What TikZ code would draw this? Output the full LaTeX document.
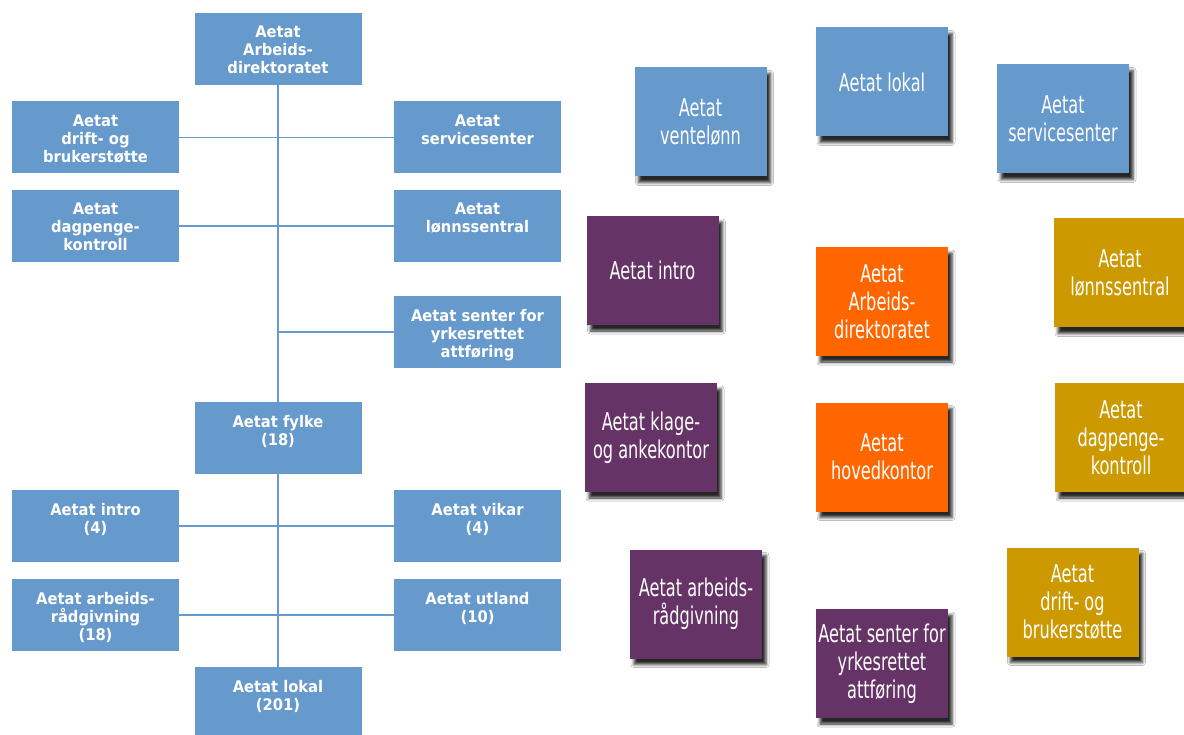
\documentclass[tikz,border=0pt]{standalone}
\usepackage{fontspec}
\usepackage{xcolor}
\usepackage{tikz}
\usetikzlibrary{shadows.blur}
\newfontfamily\unitfont[FakeStretch=0.92]{DejaVu Sans}
\newfontfamily\tilefont[FakeStretch=0.66]{DejaVu Sans}
\definecolor{aetatblue}{HTML}{6699CC}
\definecolor{aetatpurple}{HTML}{663366}
\definecolor{aetatorange}{HTML}{FF6600}
\definecolor{aetatgold}{HTML}{CC9900}
\tikzstyle{unit} = [rectangle, fill=aetatblue, text=white, minimum width=167pt, minimum height=72pt, inner sep=0pt, font=\unitfont\bfseries\fontsize{16}{18}\selectfont]
\tikzstyle{tile} = [rectangle, text=white, minimum width=132pt, minimum height=109pt, inner sep=0pt, align=center, font=\tilefont\fontsize{24.5}{28}\selectfont, blur shadow={shadow xshift=4pt, shadow yshift=-6pt, shadow blur radius=3pt, shadow opacity=85}]
\tikzstyle{link} = [draw=aetatblue, line width=1.5pt]
\newcommand{\unittext}[1]{\parbox[t][46pt][t]{165pt}{\centering #1}}

\begin{document}
\begin{tikzpicture}[x=1pt, y=-1pt]
\fill[white] (0,0) rectangle (1184,735);
\useasboundingbox (0,0) rectangle (1184,735);

% organisation tree
\node[unit] (dir) at (278,49) {\unittext{Aetat\\Arbeids-\\direktoratet}};
\node[unit] (drift) at (95.5,137.5) {\unittext{Aetat\\drift- og\\brukerstøtte}};
\node[unit] (service) at (477.5,137.5) {\unittext{Aetat\\servicesenter}};
\node[unit] (dagpenge) at (95.5,226) {\unittext{Aetat\\dagpenge-\\kontroll}};
\node[unit] (lonn) at (477.5,226) {\unittext{Aetat\\lønnssentral}};
\node[unit] (senter) at (477.5,332) {\unittext{Aetat senter for\\yrkesrettet\\attføring}};
\node[unit] (fylke) at (278,438) {\unittext{Aetat fylke\\(18)}};
\node[unit] (intro) at (95.5,526) {\unittext{Aetat intro\\(4)}};
\node[unit] (vikar) at (477.5,526) {\unittext{Aetat vikar\\(4)}};
\node[unit] (arbrad) at (95.5,615) {\unittext{Aetat arbeids-\\rådgivning\\(18)}};
\node[unit] (utland) at (477.5,615) {\unittext{Aetat utland\\(10)}};
\node[unit] (lokal) at (278,703) {\unittext{Aetat lokal\\(201)}};

\draw[link] (dir) -- (fylke);
\draw[link] (fylke) -- (lokal);
\draw[link] (drift) -- (service);
\draw[link] (dagpenge) -- (lonn);
\draw[link] (dir |- senter) -- (senter);
\draw[link] (intro) -- (vikar);
\draw[link] (arbrad) -- (utland);

% new organisation
\node[tile, fill=aetatblue] (rvent) at (700.5,122) {Aetat\\ventelønn};
\node[tile, fill=aetatblue] (rlokal) at (882,82) {Aetat lokal};
\node[tile, fill=aetatblue] (rservice) at (1063,119) {Aetat\\servicesenter};
\node[tile, fill=aetatpurple] (rintro) at (652.5,270.5) {Aetat intro};
\node[tile, fill=aetatorange] (rdir) at (882,301.5) {Aetat\\Arbeids-\\direktoratet};
\node[tile, fill=aetatgold] (rlonn) at (1120,273) {Aetat\\lønnssentral};
\node[tile, fill=aetatpurple] (rklage) at (651,437.5) {Aetat klage-\\og ankekontor};
\node[tile, fill=aetatorange] (rhoved) at (882,457) {Aetat\\hovedkontor};
\node[tile, fill=aetatgold] (rdagpenge) at (1121,437.5) {Aetat\\dagpenge-\\kontroll};
\node[tile, fill=aetatpurple] (rarbrad) at (696,604) {Aetat arbeids-\\rådgivning};
\node[tile, fill=aetatpurple] (rsenter) at (882,663.5) {Aetat senter for\\yrkesrettet\\attføring};
\node[tile, fill=aetatgold] (rdrift) at (1072.5,602) {Aetat\\drift- og\\brukerstøtte};
\end{tikzpicture}
\end{document}
